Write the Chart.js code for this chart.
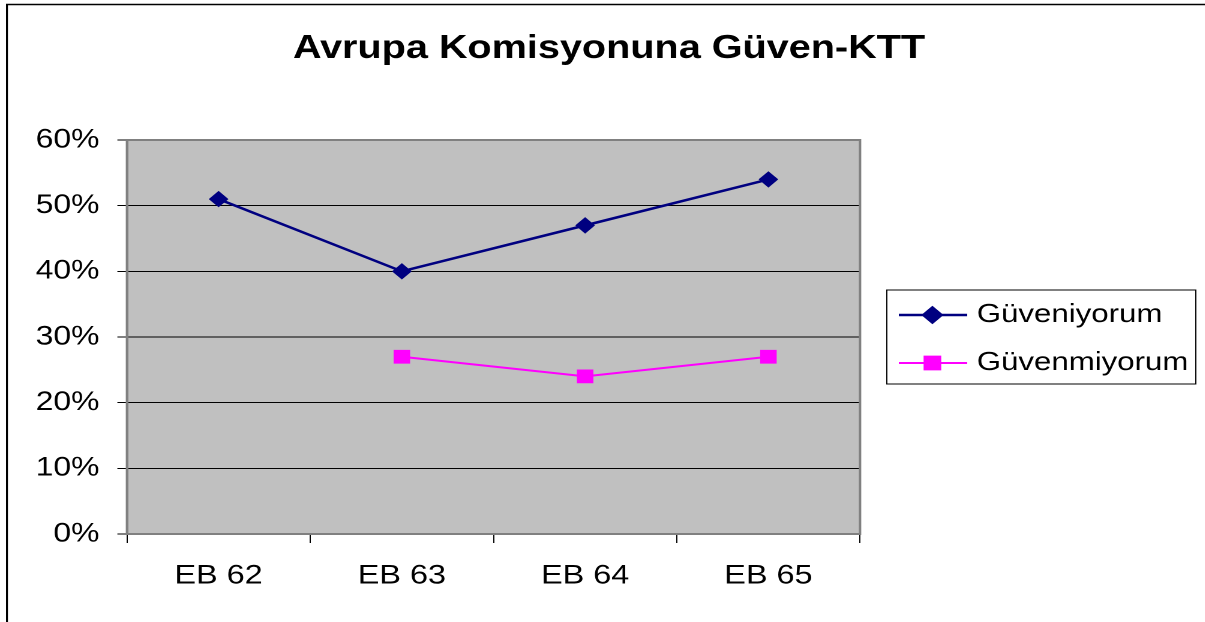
<!DOCTYPE html>
<html>
<head>
<meta charset="utf-8">
<script src="https://cdn.jsdelivr.net/npm/chart.js@4/dist/chart.umd.min.js"></script>
<style>
  html, body { margin: 0; padding: 0; background: #fff; overflow: hidden; }
  /* the reference picture is stretched sideways, so the chart is drawn narrow and widened */
  #wrap { width: 1004px; height: 622px; transform: scaleX(1.2); transform-origin: 0 0; }
</style>
</head>
<body>
<div id="wrap"><canvas id="chart" width="1004" height="622"></canvas></div>
<script>
const categories = ['EB 62', 'EB 63', 'EB 64', 'EB 65'];
const guveniyorum = [51, 40, 47, 54];
const guvenmiyorum = [null, 27, 24, 27];
const seriesNames = ['Güveniyorum', 'Güvenmiyorum'];
const yTicks = [0, 10, 20, 30, 40, 50, 60];

const FONT = '"Liberation Sans", Arial, sans-serif';

const frame = {
	id: 'frame',
	beforeDraw(chart) {
		const { ctx, chartArea: a } = chart;
		ctx.save();
		ctx.strokeStyle = '#000';
		ctx.lineWidth = 1.6;
		ctx.beginPath();
		ctx.moveTo(5.8, 640);
		ctx.lineTo(5.8, 4.5);
		ctx.lineTo(1004, 4.5);
		ctx.stroke();
		ctx.fillStyle = '#c0c0c0';
		ctx.fillRect(a.left, a.top, a.right - a.left, a.bottom - a.top);
		ctx.restore();
	},
	beforeDatasetsDraw(chart) {
		const { ctx, chartArea: a } = chart;
		ctx.save();
		ctx.strokeStyle = '#808080';
		ctx.lineWidth = 2;
		ctx.strokeRect(a.left, a.top, a.right - a.left, a.bottom - a.top);
		ctx.restore();
	}
};

const boxLegend = {
	id: 'boxLegend',
	afterDraw(chart) {
		const { ctx } = chart;
		const x0 = 739, y0 = 290, w = 257.5, h = 94;
		ctx.save();
		ctx.strokeStyle = '#000';
		ctx.lineWidth = 1;
		ctx.strokeRect(x0, y0, w, h);
		chart.data.datasets.forEach((ds, i) => {
			const y = 315 + i * 48;
			ctx.strokeStyle = ds.borderColor;
			ctx.lineWidth = ds.borderWidth;
			ctx.beginPath();
			ctx.moveTo(749, y);
			ctx.lineTo(806, y);
			ctx.stroke();
			ctx.fillStyle = ds.pointBackgroundColor;
			ctx.strokeStyle = ds.pointBorderColor;
			Chart.helpers.drawPoint(ctx, {
				pointStyle: ds.pointStyle, radius: ds.pointRadius, borderWidth: 1
			}, 777, y);
			ctx.fillStyle = '#000';
			ctx.font = '26px ' + FONT;
			ctx.textAlign = 'left';
			ctx.textBaseline = 'middle';
			ctx.fillText(ds.label, 814, y);
		});
		ctx.restore();
	}
};

new Chart(document.getElementById('chart'), {
	type: 'line',
	data: {
		labels: categories,
		datasets: [
			{
				label: seriesNames[0],
				data: guveniyorum,
				borderColor: '#000080',
				borderWidth: 2.5,
				pointStyle: 'rectRot',
				pointRadius: 7.5,
				pointBackgroundColor: '#000080',
				pointBorderColor: '#000080',
				pointBorderWidth: 1,
				tension: 0
			},
			{
				label: seriesNames[1],
				data: guvenmiyorum,
				borderColor: '#ff00ff',
				borderWidth: 2,
				pointStyle: 'rect',
				pointRadius: 9,
				pointBackgroundColor: '#ff00ff',
				pointBorderColor: '#ff00ff',
				pointBorderWidth: 1,
				spanGaps: false,
				tension: 0
			}
		]
	},
	options: {
		responsive: false,
		animation: false,
		devicePixelRatio: 2,
		layout: { padding: { left: 11, right: 0, top: 0, bottom: 0 } },
		plugins: {
			legend: { display: false },
			tooltip: { enabled: false },
			title: {
				display: true,
				text: 'Avrupa Komisyonuna Güven-KTT',
				color: '#000',
				font: { family: FONT, size: 33, weight: 'bold', lineHeight: 1.2 },
				padding: { top: 29, bottom: 71.4 }
			}
		},
		scales: {
			x: {
				offset: true,
				grid: { offset: true, drawOnChartArea: false, tickLength: 9, color: '#000', lineWidth: 1 },
				border: { color: '#808080', width: 2 },
				ticks: { color: '#000', padding: 17, font: { family: FONT, size: 27 } },
				afterFit(s) { s.height = 88; }
			},
			y: {
				min: yTicks[0],
				max: yTicks[yTicks.length - 1],
				afterBuildTicks(s) { s.ticks = yTicks.map(v => ({ value: v })); },
				grid: { color: '#000', lineWidth: 1, tickLength: 8 },
				border: { color: '#808080', width: 2 },
				ticks: {
					color: '#000', padding: 15,
					font: { family: FONT, size: 26.5 },
					callback: v => v + '%'
				},
				afterFit(s) { s.width = 94.8; }
			},
			y2: {
				position: 'right',
				display: true,
				grid: { display: false },
				border: { display: false },
				ticks: { display: false },
				afterFit(s) { s.width = 1004 - 716.7; }
			}
		}
	},
	plugins: [frame, boxLegend]
});
</script>
</body>
</html>
